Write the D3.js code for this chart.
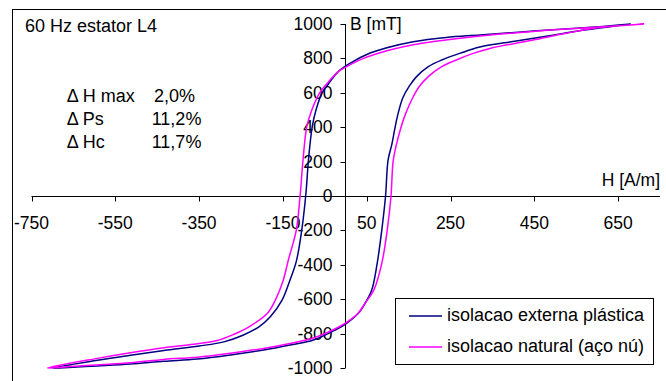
<!DOCTYPE html>
<html>
<head>
<meta charset="utf-8">
<script src="https://cdn.jsdelivr.net/npm/d3@7"></script>
<style>
html,body{margin:0;padding:0;background:#fff;}
svg text{font-family:"Liberation Sans",Arial,sans-serif;fill:#000;}
</style>
</head>
<body>
<svg id="c" width="666" height="381"></svg>
<script>
// ---- data (H [A/m], B [mT]) ----
const seriesNames = ["isolacao externa plástica", "isolacao natural (aço nú)"];
const seriesColors = ["#000080", "#FF00FF"];

const externaH = [680,605,447,320,240,161,98,58,10,-18,-41,-57,-71,-80,-89,-95,-105,-118,-133,-152,-180,-208,-244,-291,-350,-434,-514,-593,-700,
  -672,-593,-514,-434,-355,-275,-196,-133,-77,-25,2,30,46,62,75,86,95,101,110,117,124,136,152,169,197,229,272,320,407,486,565,680];
const externaB = [1000,984,959,936,922,897,862,831,771,723,653,597,500,403,209,16,-198,-380,-488,-605,-702,-762,-808,-848,-872,-898,-926,-955,-1000,
  -998,-988,-977,-961,-948,-924,-895,-866,-837,-779,-740,-682,-624,-547,-392,-198,0,209,300,390,470,570,640,694,752,791,829,866,901,932,963,1000];

const naturalH = [712,605,447,288,161,105,42,2,-18,-45,-63,-81,-93,-102,-109,-118,-137,-149,-168,-188,-232,-268,-307,-363,-434,-514,-593,-712,
  -672,-593,-514,-434,-355,-275,-196,-133,-77,-25,2,30,46,67,86,99,108,113,121,130,140,150,161,175,197,229,264,304,344,447,526,605,712];
const naturalB = [1000,982,957,922,880,849,800,752,723,653,597,500,403,209,0,-198,-372,-488,-605,-685,-762,-805,-840,-862,-882,-911,-944,-1000,
  -994,-982,-970,-950,-937,-914,-886,-857,-826,-772,-735,-680,-624,-547,-392,-198,0,200,300,384,460,520,577,635,694,752,791,829,858,907,946,979,1000];

const xTicks = [-750,-550,-350,-150,50,250,450,650];
const yTicks = [-1000,-800,-600,-400,-200,0,200,400,600,800,1000];

const titleText = "60 Hz estator L4";
const deltaLabels = ["Δ H max", "Δ Ps", "Δ Hc"];
const deltaValues = ["2,0%", "11,2%", "11,7%"];

// ---- drawing ----
const svg = d3.select("#c");
const x = d3.scaleLinear().domain([-750, 750]).range([31.5, 660]);
const y = d3.scaleLinear().domain([-1000, 1000]).range([368, 24]);

// outer chart border (cropped at right/bottom)
svg.append("rect").attr("x", 12.5).attr("y", 9.5).attr("width", 700).attr("height", 400)
  .attr("fill", "#fff").attr("stroke", "#000").attr("stroke-width", 1);

// x axis
const xAxis = svg.append("g").attr("transform", `translate(0,${Math.round(y(0)) + 0.5})`);
xAxis.append("line").attr("x1", x(-750)).attr("x2", x(750)).attr("stroke", "#000");
xAxis.selectAll(".t").data(xTicks).enter().append("line")
  .attr("x1", d => Math.round(x(d)) + 0.5).attr("x2", d => Math.round(x(d)) + 0.5)
  .attr("y1", 0).attr("y2", 5).attr("stroke", "#000");
xAxis.selectAll(".l").data(xTicks).enter().append("text")
  .attr("x", d => x(d)).attr("y", 32).attr("text-anchor", "middle")
  .style("font-size", "17.5px").text(d => d);

// y axis
const xAx0 = Math.round(x(0)) - 0.5;
const yAxis = svg.append("g").attr("transform", `translate(${xAx0},0)`);
yAxis.append("line").attr("y1", y(-1000)).attr("y2", y(1000)).attr("stroke", "#000");
yAxis.selectAll(".t").data(yTicks).enter().append("line")
  .attr("y1", d => Math.round(y(d)) + 0.5).attr("y2", d => Math.round(y(d)) + 0.5)
  .attr("x1", -5).attr("x2", 0).attr("stroke", "#000");
yAxis.selectAll(".l").data(yTicks).enter().append("text")
  .attr("x", -13).attr("y", d => y(d) + 6).attr("text-anchor", "end")
  .style("font-size", "17.5px").text(d => d);

// axis titles
svg.append("text").attr("x", 350).attr("y", 30).style("font-size", "17.5px").text("B [mT]");
svg.append("text").attr("x", 660).attr("y", 186).attr("text-anchor", "end").style("font-size", "17.5px").text("H [A/m]");

// curves
const line = d3.line().x(d => x(d[0])).y(d => y(d[1])).curve(d3.curveCatmullRom.alpha(0.5));
const loops = [d3.zip(externaH, externaB), d3.zip(naturalH, naturalB)];
loops.forEach((pts, i) => {
  svg.append("path").attr("d", line(pts)).attr("fill", "none")
    .attr("stroke", seriesColors[i]).attr("stroke-width", 1.5).attr("stroke-linejoin", "round");
});

// title and deltas
svg.append("text").attr("x", 25).attr("y", 32).style("font-size", "18px").text(titleText);
const dBase = [101.5, 125, 148.3];
const dValX = [154, 151.7, 151.7];
deltaLabels.forEach((t, i) => {
  svg.append("text").attr("x", 66.7).attr("y", dBase[i]).style("font-size", "18px").text(t);
  svg.append("text").attr("x", dValX[i]).attr("y", dBase[i]).style("font-size", "18px").text(deltaValues[i]);
});

// legend
const lg = svg.append("g");
lg.append("rect").attr("x", 395.5).attr("y", 298.5).attr("width", 258).attr("height", 66)
  .attr("fill", "#fff").attr("stroke", "#000").attr("stroke-width", 1);
const lgY = [316, 347];
const lgBase = [321, 351.5];
seriesNames.forEach((n, i) => {
  lg.append("line").attr("x1", 409).attr("x2", 442).attr("y1", lgY[i]).attr("y2", lgY[i])
    .attr("stroke", seriesColors[i]).attr("stroke-width", 1.5);
  lg.append("text").attr("x", 447).attr("y", lgBase[i]).style("font-size", "18px").text(n);
});
</script>
</body>
</html>
